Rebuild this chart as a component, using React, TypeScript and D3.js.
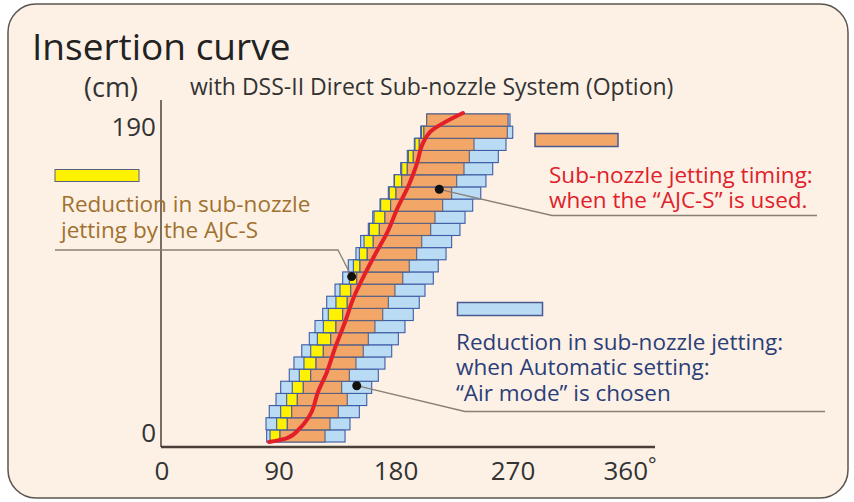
import { useEffect } from "react"
import * as d3 from "d3"

// * Sub-nozzle rows, bottom to top, edges in degrees
const rowStart = [80.5, 80.0, 82.5, 87.7, 91.3, 97.9, 101.5, 107.5, 113.3, 117.7, 123.6, 126.7, 133.1, 139.0, 143.3, 149.2, 152.8, 158.7, 162.1, 167.7, 174.1, 178.5, 183.6, 188.7, 194.1, 199.0, 203.6]
const yellowStart = [83.1, 88.2, 91.3, 95.9, 100.2, 105.6, 109.2, 114.4, 119.5, 124.1, 127.9, 133.8, 136.9, 144.1, 147.2, 151.8, 155.4, 159.5, 163.1, 168.2, 174.8, 178.8, 184.4, 189.5, 194.6, 199.6, 203.6]
const orangeStart = [90.8, 96.4, 99.8, 104.1, 108.7, 114.4, 118.5, 124.1, 129.8, 133.8, 139.0, 142.5, 145.2, 149.8, 152.3, 157.9, 162.5, 167.2, 171.5, 175.9, 180.0, 184.4, 188.7, 193.3, 197.9, 201.5, 203.6]
const blueStart = [125.4, 129.2, 135.6, 142.5, 138.2, 144.1, 149.2, 154.8, 158.7, 163.8, 169.8, 174.1, 179.2, 185.2, 190.2, 195.9, 199.8, 206.7, 210.0, 215.9, 222.8, 226.7, 232.3, 236.4, 240.0, 265.6, 266.2]
const rowEnd = [140.8, 144.6, 151.8, 157.5, 161.3, 166.4, 171.5, 176.7, 181.8, 186.9, 193.3, 197.9, 202.3, 208.7, 212.5, 218.5, 222.8, 229.2, 233.1, 239.0, 245.2, 249.2, 254.4, 258.7, 264.6, 269.8, 267.7]

// * Insertion curve (degrees, cm)
const curveDeg = [82.3, 96.2, 106.2, 113.8, 120.0, 126.9, 133.1, 140.8, 147.3, 156.2, 163.8, 173.1, 181.5, 189.2, 196.2, 200.8, 206.2, 231.5]
const curveCm = [0, 2.3, 8.1, 15.6, 29.0, 40.6, 54.5, 69.5, 83.4, 97.5, 108.5, 121.1, 136.1, 147.7, 161.6, 173.2, 179.6, 190.6]

const xTicks = [0, 90, 180, 270, 360]
const yTicks = [0, 190]

// * Callout dots (degrees, cm)
const dotDeg = [145.9, 213.3, 149.8]
const dotCm = [95.8, 146.4, 32.6]

const FONT = "'Open Sans', Lato, sans-serif"
const LIGHT_BLUE = "#b9dcf4"
const YELLOW = "#fff200"
const ORANGE = "#f2a668"
const EDGE = "#3d5ca6"

export default function App() {
  useEffect(() => {
    document.body.style.margin = "0"
  }, [])

  const x = d3.scaleLinear().domain([0, 360]).range([162, 630])
  const y = d3.scaleLinear().domain([0, 190]).range([442, 114])
  const rows = d3.scaleBand<number>().domain(d3.range(rowStart.length)).range([442, 114])
  const h = rows.bandwidth()

  const line = d3
    .line<number>()
    .x((i) => x(curveDeg[i]))
    .y((i) => y(curveCm[i]))
    .curve(d3.curveMonotoneY)

  const dots = dotDeg.map((d, i) => [x(d), y(dotCm[i])])

  return (
    <svg width={854} height={502} style={{ display: "block", fontFamily: FONT }}>
      <rect x={0} y={0} width={854} height={502} fill="#fff" />
      <rect x={8} y={4} width={840} height={494} rx={28} fill="#fdf1e6" stroke="#5a5550" strokeWidth={1.5} />

      <text x={32} y={60} fontSize={37} fill="#222">Insertion curve</text>
      <text x={84} y={97} fontSize={27} fill="#333">(cm)</text>
      <text x={190} y={95} fontSize={23} fill="#333">with DSS-II Direct Sub-nozzle System (Option)</text>

      {/* axes */}
      <line x1={x(0) - 1} x2={x(0) - 1} y1={100} y2={447} stroke="#4a4038" strokeWidth={1.5} />
      <line x1={x(0) - 1} x2={655} y1={447} y2={447} stroke="#4a4038" strokeWidth={2.5} />
      {xTicks.map((t) => (
        <text key={t} x={x(t)} y={480} fontSize={26} fill="#333" textAnchor="middle">
          {t}
          {t === 360 ? <tspan fontSize={20} dy={-8}>°</tspan> : null}
        </text>
      ))}
      {yTicks.map((t) => (
        <text
          key={t}
          x={156}
          y={y(t)}
          fontSize={26}
          fill="#333"
          textAnchor="end"
          dominantBaseline={t === 0 ? "auto" : "hanging"}
        >
          {t}
        </text>
      ))}

      {/* nozzle rows */}
      {rowStart.map((s, i) => {
        const top = rows(i) as number
        return (
          <g key={i}>
            <rect x={x(s)} y={top} width={x(rowEnd[i]) - x(s)} height={h} fill={LIGHT_BLUE} stroke={EDGE} strokeWidth={1.1} />
            {orangeStart[i] > yellowStart[i] && (
              <rect
                x={x(yellowStart[i])}
                y={top}
                width={x(orangeStart[i]) - x(yellowStart[i])}
                height={h}
                fill={YELLOW}
                stroke={EDGE}
                strokeWidth={1.1}
              />
            )}
            <rect
              x={x(orangeStart[i])}
              y={top}
              width={x(blueStart[i]) - x(orangeStart[i])}
              height={h}
              fill={ORANGE}
              stroke="#5a6080"
              strokeWidth={1.1}
            />
          </g>
        )
      })}

      <path d={line(d3.range(curveDeg.length)) ?? ""} fill="none" stroke="#e3202a" strokeWidth={4} strokeLinecap="round" />

      {/* left callout: yellow */}
      <rect x={55} y={169.5} width={84} height={12} fill={YELLOW} stroke="#5a6080" strokeWidth={1} />
      <text fontSize={22.5} fill="#a0712e">
        <tspan x={61} y={212}>Reduction in sub-nozzle</tspan>
        <tspan x={61} y={238}>jetting by the AJC-S</tspan>
      </text>
      <polyline points={`55,250 338,250 ${dots[0][0]},${dots[0][1]}`} fill="none" stroke="#8a7f74" strokeWidth={1.3} />

      {/* right callout: orange */}
      <rect x={535} y={133.5} width={83} height={13} fill={ORANGE} stroke="#4a5a90" strokeWidth={1.5} />
      <text fontSize={22.5} fill="#e0202a">
        <tspan x={549} y={183}>Sub-nozzle jetting timing:</tspan>
        <tspan x={549} y={208}>when the “AJC-S” is used.</tspan>
      </text>
      <polyline points={`817,215.5 552,215.5 ${dots[1][0]},${dots[1][1]}`} fill="none" stroke="#8a7f74" strokeWidth={1.3} />

      {/* lower callout: light blue */}
      <rect x={457.5} y={302.5} width={85} height={13} fill={LIGHT_BLUE} stroke="#4a5a90" strokeWidth={1.5} />
      <text fontSize={22.5} fill="#2b3e78">
        <tspan x={456} y={350}>Reduction in sub-nozzle jetting:</tspan>
        <tspan x={456} y={375}>when Automatic setting:</tspan>
        <tspan x={456} y={401}>“Air mode” is chosen</tspan>
      </text>
      <polyline points={`825,411.5 465,411.5 ${dots[2][0]},${dots[2][1]}`} fill="none" stroke="#8a7f74" strokeWidth={1.3} />

      {dots.map(([cx, cy], i) => (
        <circle key={i} cx={cx} cy={cy} r={4.5} fill="#111" />
      ))}
    </svg>
  )
}
